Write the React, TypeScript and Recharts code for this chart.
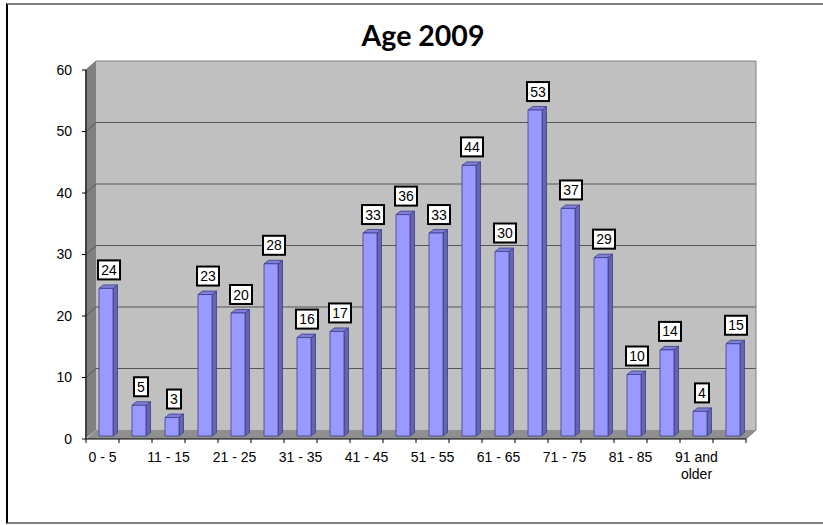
import React from 'react';
import { BarChart, Bar, XAxis, YAxis, LabelList, Customized } from 'recharts';

const categories = [
  '0 - 5', '6 - 10', '11 - 15', '16 - 20', '21 - 25', '26 - 30', '31 - 35',
  '36 - 40', '41 - 45', '46 - 50', '51 - 55', '56 - 60', '61 - 65', '66 - 70',
  '71 - 75', '76 - 80', '81 - 85', '86 - 90', '91 and older', '',
];
const counts = [24, 5, 3, 23, 20, 28, 16, 17, 33, 36, 33, 44, 30, 53, 37, 29, 10, 14, 4, 15];
const yTicks = [0, 10, 20, 30, 40, 50, 60];

const data = categories.map((name, i) => ({ name, count: counts[i] }));

const WIDTH = 823;
const HEIGHT = 525;
const LEFT = 86;
const RIGHT = 746;
const TOP = 70;
const BOTTOM = 439;
const DEPTH_X = 10;
const DEPTH_Y = 9;
const STEP = (RIGHT - LEFT) / categories.length;
const FONT = '"Liberation Sans", Arial, sans-serif';

// back wall, side wall and floor of the 3D box, plus gridlines
const Walls = () => {
  const wallLeft = LEFT + DEPTH_X;
  const wallRight = RIGHT + DEPTH_X;
  const wallTop = TOP - DEPTH_Y;
  const wallBottom = BOTTOM - DEPTH_Y;
  return (
    <g>
      <rect x={wallLeft} y={wallTop} width={wallRight - wallLeft} height={wallBottom - wallTop} fill="#c0c0c0" />
      <polygon
        points={`${LEFT - 1},${TOP} ${wallLeft},${wallTop} ${wallLeft},${wallBottom} ${LEFT - 1},${BOTTOM}`}
        fill="#808080"
      />
      <polygon
        points={`${LEFT},${BOTTOM} ${wallLeft},${wallBottom} ${wallRight},${wallBottom} ${RIGHT},${BOTTOM}`}
        fill="#8f8f8f"
      />
      {yTicks.filter((t) => t > 0).map((t) => {
        const y = BOTTOM - (t / 60) * (BOTTOM - TOP);
        return (
          <g key={t} stroke={t === 60 ? '#808080' : '#555555'} strokeWidth={1}>
            <line x1={LEFT} y1={y} x2={wallLeft} y2={y - DEPTH_Y} />
            <line x1={wallLeft} y1={y - DEPTH_Y} x2={wallRight} y2={y - DEPTH_Y} />
          </g>
        );
      })}
      <line x1={wallRight} y1={wallTop} x2={wallRight} y2={wallBottom} stroke="#808080" />
      <line x1={RIGHT} y1={BOTTOM} x2={wallRight} y2={wallBottom} stroke="#808080" />
    </g>
  );
};

// flat bar drawn as a small box, sitting slightly back from the front edge
const BoxBar = ({ x, y, width, height }: any) => {
  const left = x + 3;
  const top = y - 3;
  const right = left + width;
  const bottom = top + height;
  const dx = 4.5;
  const dy = 3.5;
  const edge = '#3c3c8c';
  return (
    <g strokeWidth={0.8} stroke={edge} strokeLinejoin="round">
      <polygon points={`${right},${top} ${right + dx},${top - dy} ${right + dx},${bottom - dy} ${right},${bottom}`} fill="#6666b0" />
      <polygon points={`${left},${top} ${left + dx},${top - dy} ${right + dx},${top - dy} ${right},${top}`} fill="#7f7fd6" />
      <rect x={left} y={top} width={width} height={height} fill="#9999ff" />
    </g>
  );
};

const ValueLabel = ({ x, y, width, value }: any) => {
  const wide = String(value).length > 1;
  const boxW = wide ? 22 : 14;
  const boxH = 19;
  const cx = x + width / 2 + (wide ? 6 : 5);
  const boxBottom = y - 12;
  return (
    <g>
      <rect x={cx - boxW / 2} y={boxBottom - boxH} width={boxW} height={boxH} fill="#fff" stroke="#000" strokeWidth={2} />
      <text x={cx} y={boxBottom - boxH / 2 + 5} textAnchor="middle" fontFamily={FONT} fontSize={14} fill="#000">
        {value}
      </text>
    </g>
  );
};

// tick marks fall between categories; only every other category is labelled
const CategoryTick = ({ x, payload, index }: any) => {
  const words = String(payload.value).split(' ');
  const twoLines = words.length === 3 && words[1] === 'and';
  const left = x - STEP / 2;
  const isLast = index === categories.length - 1;
  return (
    <g>
      <line x1={left} y1={BOTTOM} x2={left} y2={BOTTOM + 4} stroke="#000" />
      {isLast && <line x1={left + STEP} y1={BOTTOM} x2={left + STEP} y2={BOTTOM + 4} stroke="#000" />}
      {index % 2 === 0 && (
        <text x={x} y={BOTTOM + 23} textAnchor="middle" fontFamily={FONT} fontSize={14} fill="#000">
          {twoLines ? (
            <>
              <tspan x={x}>{`${words[0]} ${words[1]}`}</tspan>
              <tspan x={x} dy={17}>{words[2]}</tspan>
            </>
          ) : (
            payload.value
          )}
        </text>
      )}
    </g>
  );
};

const App = () => (
  <div style={{ position: 'absolute', left: 0, top: 0, width: WIDTH, height: HEIGHT, background: '#fff' }}>
    <div style={{ position: 'absolute', left: 6, top: 3, width: 815, height: 517, borderTop: '2px solid #808080', borderBottom: '2px solid #808080', borderLeft: '2px solid #000', borderRight: '1px solid #c8c8c8' }} />
    <div style={{ position: 'absolute', left: 0, top: 18, width: 846, textAlign: 'center', fontFamily: 'Lato, sans-serif', fontWeight: 700, fontSize: 28.5, lineHeight: '34px', color: '#000' }}>
      Age 2009
    </div>
    <div style={{ position: 'absolute', left: 0, top: 0 }}>
      <BarChart
        width={WIDTH}
        height={HEIGHT}
        data={data}
        barSize={14}
        margin={{ top: TOP, right: WIDTH - RIGHT, bottom: 0, left: 0 }}
      >
        <Customized component={Walls} />
        <XAxis
          dataKey="name"
          height={HEIGHT - BOTTOM}
          interval={0}
          tickLine={false}
          axisLine={{ stroke: '#000' }}
          tick={<CategoryTick />}
        />
        <YAxis
          width={LEFT}
          domain={[0, 60]}
          ticks={yTicks}
          tickSize={4}
          tickMargin={10}
          axisLine={{ stroke: '#000' }}
          tickLine={{ stroke: '#000' }}
          tick={{ fontFamily: FONT, fontSize: 14, fill: '#000' }}
        />
        <Bar dataKey="count" shape={<BoxBar />} isAnimationActive={false}>
          <LabelList dataKey="count" content={<ValueLabel />} />
        </Bar>
      </BarChart>
    </div>
  </div>
);

export default App;
